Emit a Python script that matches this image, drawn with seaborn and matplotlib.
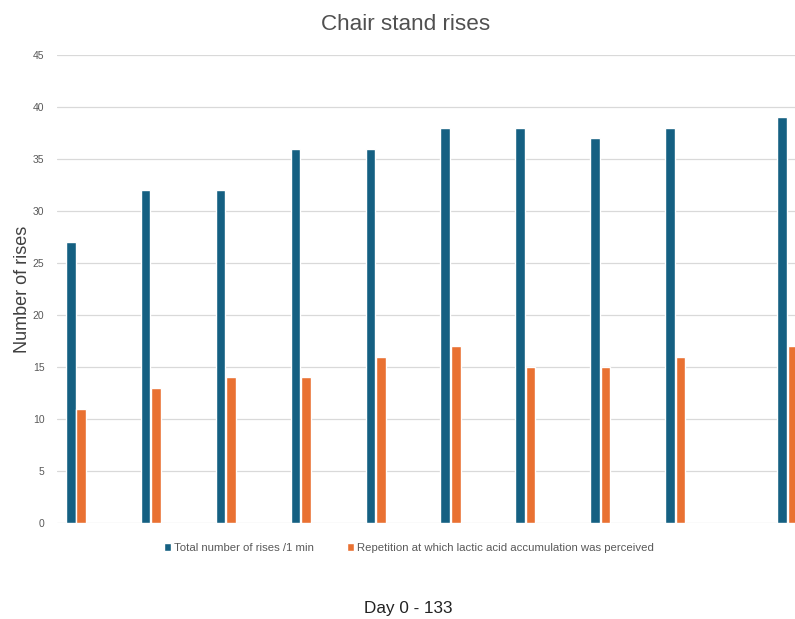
import matplotlib
matplotlib.use("Agg")
import matplotlib.pyplot as plt
import seaborn as sns
import pandas as pd

# days of the chair stand test sessions
days = [0, 14, 28, 42, 56, 70, 84, 98, 112, 133]
total_rises = [27, 32, 32, 36, 36, 38, 38, 37, 38, 39]
lactic_rep = [11, 13, 14, 14, 16, 17, 15, 15, 16, 17]

s_total = "Total number of rises /1 min"
s_lactic = "Repetition at which lactic acid accumulation was perceived"

df = pd.concat([
    pd.DataFrame({"day": days, "rises": total_rises, "series": s_total}),
    pd.DataFrame({"day": days, "rises": lactic_rep, "series": s_lactic}),
])

sns.set_style("white")
plt.rcParams["font.family"] = ["Liberation Sans", "DejaVu Sans"]

fig = plt.figure(figsize=(7.95, 6.19), dpi=100)
ax = fig.add_axes([57 / 795, (619 - 523) / 619, (795 - 57) / 795, (523 - 55) / 619])

sns.barplot(data=df, x="day", y="rises", hue="series", native_scale=True,
            palette=["#156082", "#E97132"], width=0.28, gap=0.08,
            ax=ax, legend=True, saturation=1)

ax.set_ylim(0, 45)
ax.set_xlim(-3.55, 134.4)
ax.set_yticks(range(0, 46, 5))
ax.set_xticks([])
ax.yaxis.grid(True, color="#d9d9d9", linewidth=0.9)
ax.set_axisbelow(True)
for sp in ax.spines.values():
    sp.set_visible(False)
ax.tick_params(axis="y", length=0, labelsize=7.5, labelcolor="#595959", pad=9)
ax.set_xlabel("")
ax.set_ylabel("Number of rises", fontsize=13, color="#404040", labelpad=1)

handles, labels = ax.get_legend_handles_labels()
ax.get_legend().remove()
fig.legend(handles, labels, loc="center", bbox_to_anchor=(409 / 795, 1 - 548 / 619),
           ncol=2, frameon=False, fontsize=8.2, handlelength=0.6, handleheight=0.6,
           handletextpad=0.3, columnspacing=2.9, labelcolor="#595959")

fig.text(406 / 795, 1 - 25 / 619, "Chair stand rises", ha="center", va="center",
         fontsize=16.2, color="#505050")
fig.text(408 / 795, 1 - 608 / 619, "Day 0 - 133", ha="center", va="center",
         fontsize=12.3, color="#222222")

plt.savefig("out.png", dpi=100)
plt.close()
